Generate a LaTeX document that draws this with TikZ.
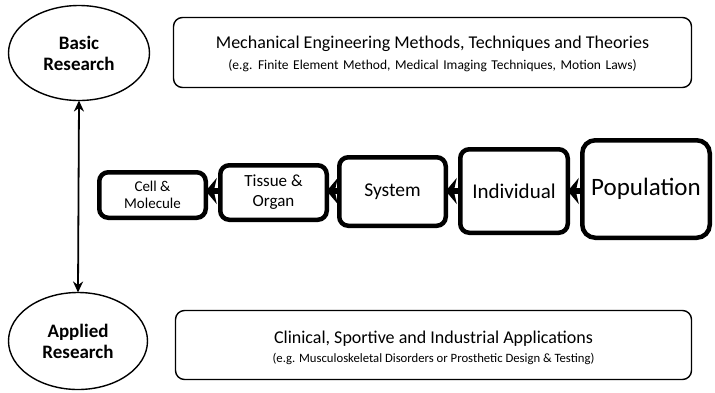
\documentclass[tikz,border=0pt]{standalone}
\usepackage{fontspec}
\setmainfont{Carlito}
\usetikzlibrary{arrows.meta,shapes.geometric}
\tikzset{
  ell/.style={ellipse, draw, line width=1.4pt, align=center, inner sep=0pt, outer sep=0pt,
    font=\fontsize{19}{21}\selectfont\bfseries},
  bigbox/.style={rectangle, draw, line width=1.4pt, rounded corners=9pt, align=center, inner sep=0pt, outer sep=0pt},
  lvl/.style={rectangle, draw, line width=4.5pt, rounded corners=9pt, align=center, inner sep=0pt, outer sep=0pt, fill=white},
  chainarrow/.style={line width=6pt, -{Stealth[length=11pt, width=26pt, inset=3pt]}},
  vert/.style={line width=1.8pt, {Stealth[length=11pt, width=10pt]}-{Stealth[length=11pt, width=10pt]}}
}
\begin{document}
\begin{tikzpicture}[x=1pt, y=-1pt]
\useasboundingbox (0,0) rectangle (715,392);
\fill[white] (0,0) rectangle (715,392);

\node[ell, minimum width=141pt, minimum height=95pt] (basic) at (79,53) {Basic\\Research};
\node[ell, minimum width=139pt, minimum height=97pt] (applied) at (78,341) {Applied\\Research};
\draw[vert] (basic.south) -- (applied.north);

\node[bigbox, minimum width=518pt, minimum height=70pt] (mech) at (432.5,52.5) {};
\node (mechA) at (432.5,44) {\fontsize{18}{20}\selectfont Mechanical Engineering Methods, Techniques and Theories};
\node (mechB) at (432.5,65.5) {\fontsize{13.5}{15}\selectfont\spaceskip=0.34em plus 0.1em (e.g. Finite Element Method, Medical Imaging Techniques, Motion Laws)};

\node[bigbox, minimum width=516pt, minimum height=69pt] (clin) at (433.5,345) {};
\node (clinA) at (433.5,339) {\fontsize{18}{20}\selectfont Clinical, Sportive and Industrial Applications};
\node (clinB) at (433.5,358.5) {\fontsize{12.7}{14}\selectfont (e.g. Musculoskeletal Disorders or Prosthetic Design \& Testing)};

\node[lvl, minimum width=106.5pt, minimum height=45.5pt, font=\fontsize{15}{17}\selectfont] (cell) at (152.5,195) {Cell \&\\Molecule};
\node[lvl, minimum width=106.5pt, minimum height=54.5pt, font=\fontsize{17}{20}\selectfont] (tissue) at (273.5,192.5) {Tissue \&\\Organ};
\node[lvl, minimum width=106.5pt, minimum height=68.5pt, font=\fontsize{19.5}{22}\selectfont] (system) at (392.5,191.5) {System};
\node[lvl, minimum width=107.5pt, minimum height=83.5pt, font=\fontsize{21}{24}\selectfont] (indiv) at (514,191) {Individual};
\node[lvl, minimum width=127.5pt, minimum height=97.5pt, rounded corners=13pt, font=\fontsize{25}{28}\selectfont] (pop) at (646,189) {Population};

\draw[chainarrow] (tissue.west |- 0,191) -- (cell.east |- 0,191);
\draw[chainarrow] (system.west |- 0,191) -- (tissue.east |- 0,191);
\draw[chainarrow] (indiv.west |- 0,191) -- (system.east |- 0,191);
\draw[chainarrow] (pop.west |- 0,191) -- (indiv.east |- 0,191);
\end{tikzpicture}
\end{document}
